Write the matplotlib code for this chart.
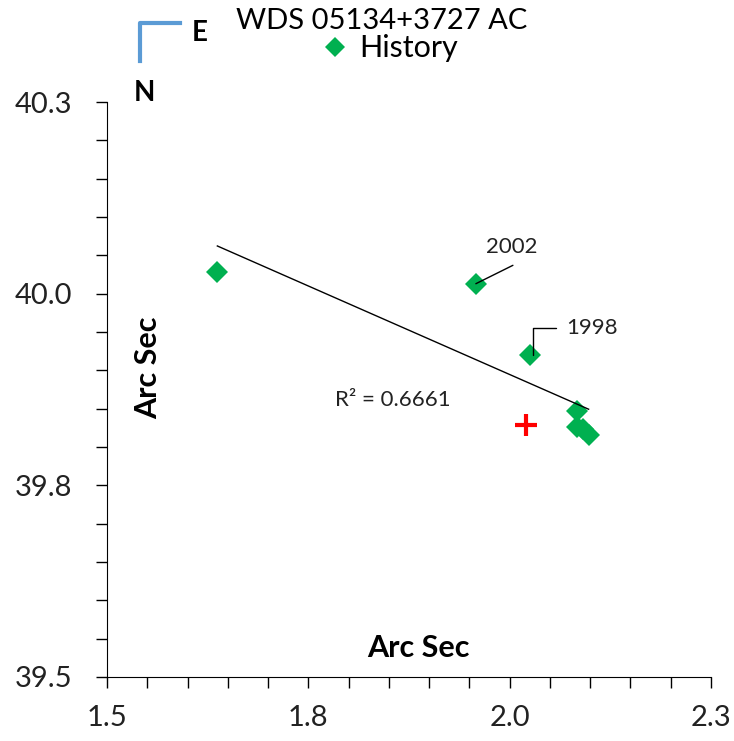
import numpy as np
import matplotlib
matplotlib.use('Agg')
import matplotlib.pyplot as plt
from matplotlib.ticker import MultipleLocator, FixedLocator

plt.rcParams['font.family'] = ['Lato', 'DejaVu Sans']

# History measurements (arc sec)
hist_x = [1.637, 1.958, 2.025, 2.084, 2.083, 2.091, 2.098]
hist_y = [40.028, 40.013, 39.920, 39.847, 39.826, 39.823, 39.816]

# current measurement (red cross)
cur_x = [2.020]
cur_y = [39.829]

# labelled years
label_years = ['2002', '1998']
label_idx = [1, 2]

xticks = [1.5, 1.75, 2.0, 2.25]
xtick_labels = ['1.5', '1.8', '2.0', '2.3']
yticks = [39.5, 39.75, 40.0, 40.25]
ytick_labels = ['39.5', '39.8', '40.0', '40.3']

fig = plt.figure(figsize=(7.34, 7.41), dpi=100)
ax = fig.add_axes([0.1458, 0.0864, 0.8229, 0.7759])

ax.plot(hist_x, hist_y, 'D', color='#00B050', markersize=11, markeredgewidth=0, zorder=3)
ax.plot(cur_x, cur_y, '+', color='#FF0000', markersize=16, markeredgewidth=3, zorder=3)

# linear trendline
k, b = np.polyfit(hist_x, hist_y, 1)
tx = np.array([min(hist_x), max(hist_x)])
ax.plot(tx, k * tx + b, color='black', linewidth=1, zorder=4)
ax.text(1.855, 39.861, 'R² = 0.6661', fontsize=16, color='#222222', ha='center', va='center')

# year labels with leader lines
i = label_idx[0]
ax.text(hist_x[i] + 0.045, hist_y[i] + 0.048, label_years[0], fontsize=16, color='#222222',
        ha='center', va='center')
ax.annotate('', xy=(hist_x[i], hist_y[i]), xytext=(hist_x[i] + 0.046, hist_y[i] + 0.024),
            arrowprops=dict(arrowstyle='-', color='black', lw=1, shrinkA=0, shrinkB=0))
i = label_idx[1]
ax.annotate(label_years[1], xy=(hist_x[i] + 0.004, hist_y[i]),
            xytext=(hist_x[i] + 0.045, hist_y[i] + 0.035),
            fontsize=16, color='#222222', ha='left', va='center',
            arrowprops=dict(arrowstyle='-', color='black', lw=1, shrinkA=5, shrinkB=0,
                            connectionstyle='angle,angleA=0,angleB=90,rad=0'))

ax.set_xlim(1.5, 2.25)
ax.set_ylim(39.5, 40.25)
ax.xaxis.set_major_locator(FixedLocator(xticks))
ax.yaxis.set_major_locator(FixedLocator(yticks))
ax.set_xticklabels(xtick_labels)
ax.set_yticklabels(ytick_labels)
ax.xaxis.set_minor_locator(MultipleLocator(0.05))
ax.yaxis.set_minor_locator(MultipleLocator(0.05))
ax.tick_params(which='both', direction='out', length=8, width=1, color='black')
ax.tick_params(which='major', labelsize=21, labelcolor='#222222')
ax.tick_params(axis='x', pad=12)
ax.tick_params(axis='y', pad=17)
for s in ['top', 'right']:
    ax.spines[s].set_visible(False)

ax.text(0.515, 0.05, 'Arc Sec', transform=ax.transAxes, fontsize=22, fontweight='bold',
        ha='center', va='center')
ax.text(0.068, 0.537, 'Arc Sec', transform=ax.transAxes, fontsize=22, fontweight='bold',
        ha='center', va='center', rotation=90)

# title and legend
fig.text(0.52, 0.972, 'WDS 05134+3727 AC', fontsize=21, ha='center', va='center')
fig.lines.append(plt.Line2D([0.456], [0.937], marker='D', color='#00B050', markersize=10,
                            markeredgewidth=0, transform=fig.transFigure, figure=fig))
fig.text(0.49, 0.935, 'History', fontsize=22, ha='left', va='center')

# compass
fig.lines.append(plt.Line2D([0.1907, 0.1907, 0.245], [1 - 61 / 741, 1 - 23 / 741, 1 - 23 / 741],
                            color='#5B9BD5', linewidth=3, transform=fig.transFigure, figure=fig))
fig.text(0.272, 1 - 33 / 741, 'E', fontsize=20, fontweight='bold', ha='center', va='center')
fig.text(0.197, 1 - 93 / 741, 'N', fontsize=20, fontweight='bold', ha='center', va='center')

fig.savefig('out.png', dpi=100)
